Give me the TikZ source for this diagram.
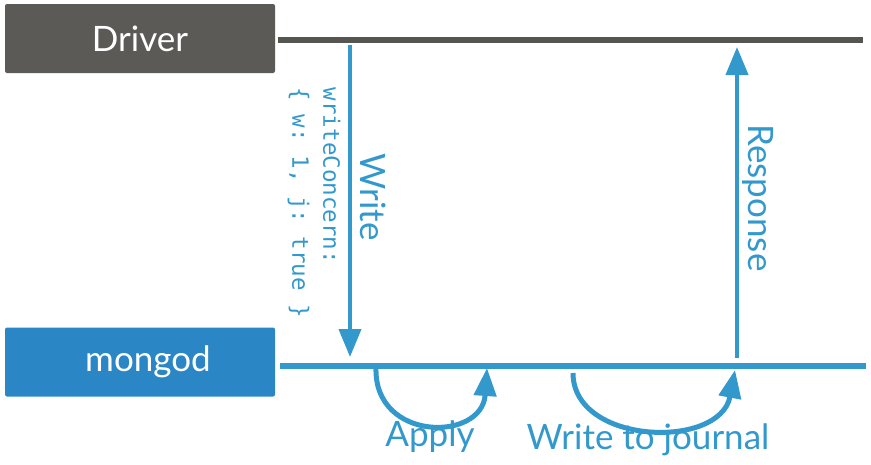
\documentclass[tikz,border=0pt]{standalone}
\usepackage{fontspec}
\setmainfont{Lato}
\setmonofont{DejaVu Sans Mono}
\usetikzlibrary{arrows.meta}
\definecolor{mdbblue}{HTML}{3399CC}
\definecolor{boxblue}{HTML}{2A86C4}
\definecolor{boxgray}{HTML}{5C5A56}
\definecolor{linegray}{HTML}{555552}

\begin{document}
\begin{tikzpicture}[x=1pt,y=-1pt,
  box/.style={rounded corners=2pt,minimum width=270pt,minimum height=69pt,text=white,font=\fontsize{35}{40}\selectfont},
  bluetext/.style={text=mdbblue,font=\fontsize{35}{40}\selectfont},
  bigtip/.style={-{Triangle[length=28pt,width=22pt]}}]
  \useasboundingbox (0,0) rectangle (871,464);
  %Kaesten
  \node[box,fill=boxgray] (driver) at (140,38.5){Driver};
  \node[box,fill=boxblue] (mongod) at (140,362){\hspace{16pt}mongod};
  %Linien
  \coordinate (dl) at (278,40);
  \coordinate (dr) at (863,40);
  \coordinate (ml) at (280,366);
  \coordinate (mr) at (866,366);
  \draw[linegray,line width=5.5pt] (dl) -- (dr);
  \draw[mdbblue,line width=5.5pt] (ml) -- (mr);
  %Pfeile
  \coordinate (w1) at (350,45);
  \coordinate (w2) at (350,357);
  \coordinate (r1) at (737,358);
  \coordinate (r2) at (737,47);
  \draw[mdbblue,line width=4pt,bigtip] (w1) -- (w2);
  \draw[mdbblue,line width=4pt,bigtip] (r1) -- (r2);
  \node[bluetext,rotate=-90] (write) at (373,197){Write};
  \node[bluetext,rotate=-90] (response) at (758,198){Response};
  \node[rotate=-90,text=mdbblue,font=\ttfamily\fontsize{22.5}{31}\selectfont,align=left] (wc) at (314,203){writeConcern:\\\{ w: 1, j: true \}};
  %Boegen
  \coordinate (a1) at (376,368);
  \coordinate (a2) at (487,368);
  \coordinate (j1) at (573,373);
  \coordinate (j2) at (735,370);
  \draw[mdbblue,line width=5pt,bigtip] (a1) .. controls (374,442) and (482,442) .. (a2);
  \draw[mdbblue,line width=5pt,bigtip] (j1) .. controls (573,445) and (720,450) .. (j2);
  \node[bluetext] (apply) at (430,437){Apply};
  \node[bluetext] (journal) at (648,440){Write to journal};
\end{tikzpicture}
\end{document}
